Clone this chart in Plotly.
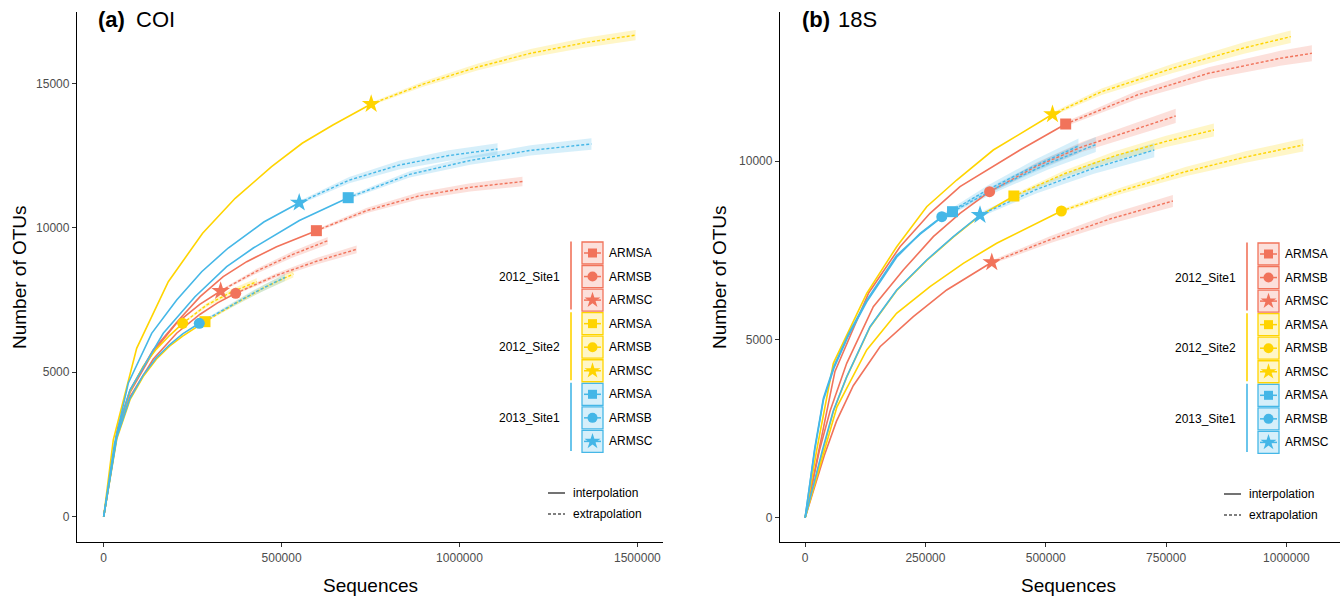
import plotly.graph_objects as go

W, H = 1343, 598

# ---------------- data: panel (a) COI ----------------
COI_XTICKS = [0, 500000, 1000000, 1500000]
COI_YTICKS = [0, 5000, 10000, 15000]

coi_s1a_ix = [0, 40000, 74000, 139000, 214000, 271000, 336000, 402000, 486000, 597800]
coi_s1a_iy = [0, 3100, 4386, 5770, 6850, 7615, 8307, 8827, 9346, 9900]
coi_s1a_ex = [597800, 740000, 885000, 1030000, 1177000]
coi_s1a_ey = [9900, 10600, 11100, 11400, 11600]
coi_s1a_ci = [50, 90, 120, 145, 165]

coi_s1b_ix = [0, 37000, 74000, 139000, 205000, 270000, 320000, 371000]
coi_s1b_iy = [0, 2800, 4150, 5450, 6350, 7000, 7400, 7733]
coi_s1b_ex = [371000, 485000, 600000, 711000]
coi_s1b_ey = [7733, 8350, 8850, 9256]
coi_s1b_ci = [40, 80, 110, 135]

coi_s1c_ix = [0, 37000, 74000, 139000, 205000, 270000, 328800]
coi_s1c_iy = [0, 2900, 4300, 5700, 6700, 7350, 7813]
coi_s1c_ex = [328800, 430000, 530000, 629600]
coi_s1c_ey = [7813, 8500, 9070, 9553]
coi_s1c_ci = [40, 80, 110, 130]

coi_s2a_ix = [0, 37000, 74000, 111000, 148000, 185000, 222000, 255000, 284700]
coi_s2a_iy = [0, 2700, 4050, 4850, 5450, 5900, 6250, 6520, 6750]
coi_s2a_ex = [284700, 370000, 450000, 533000]
coi_s2a_ey = [6750, 7380, 7920, 8401]
coi_s2a_ci = [35, 70, 100, 125]

coi_s2b_ix = [0, 37000, 74000, 111000, 148000, 185000, 222000]
coi_s2b_iy = [0, 2850, 4350, 5200, 5800, 6270, 6694]
coi_s2b_ex = [222000, 290000, 360000, 430000]
coi_s2b_ey = [6694, 7330, 7780, 8134]
coi_s2b_ci = [35, 70, 100, 125]

coi_s2c_ix = [0, 27000, 92700, 181600, 278000, 369600, 471900, 557900, 644200, 751800]
coi_s2c_iy = [0, 2655, 5829, 8134, 9810, 11021, 12115, 12925, 13558, 14285]
coi_s2c_ex = [751800, 900000, 1050000, 1200000, 1350000, 1495000]
coi_s2c_ey = [14285, 14980, 15560, 16040, 16400, 16670]
coi_s2c_ci = [50, 90, 120, 145, 165, 180]

coi_s3a_ix = [0, 38000, 73900, 167500, 256600, 345700, 420500, 550000, 687200]
coi_s3a_iy = [0, 2900, 4386, 6348, 7615, 8654, 9300, 10250, 11042]
coi_s3a_ex = [687200, 860000, 1030000, 1200000, 1371000]
coi_s3a_ey = [11042, 11850, 12330, 12680, 12901]
coi_s3a_ci = [60, 110, 150, 180, 200]

coi_s3b_ix = [0, 37000, 74000, 111000, 148000, 185000, 222000, 268700]
coi_s3b_iy = [0, 2750, 4100, 4900, 5500, 5950, 6330, 6694]
coi_s3b_ex = [268700, 350000, 430000, 509600]
coi_s3b_ey = [6694, 7260, 7800, 8287]
coi_s3b_ci = [35, 70, 100, 125]

coi_s3c_ix = [0, 30000, 69100, 134900, 205200, 275400, 350000, 450000, 549500]
coi_s3c_iy = [0, 2500, 4618, 6348, 7501, 8480, 9300, 10200, 10869]
coi_s3c_ex = [549500, 690000, 830000, 970000, 1107000]
coi_s3c_ey = [10869, 11650, 12170, 12500, 12728]
coi_s3c_ci = [60, 110, 150, 180, 200]

# ---------------- data: panel (b) 18S ----------------
S18_XTICKS = [0, 250000, 500000, 750000, 1000000]
S18_YTICKS = [0, 5000, 10000]

s18_s1a_ix = [0, 28000, 62000, 132000, 197200, 259500, 321800, 446500, 541400]
s18_s1a_iy = [0, 1900, 4100, 6300, 7597, 8533, 9280, 10308, 11037]
s18_s1a_ex = [541400, 690000, 838000, 987000, 1053000]
s18_s1a_ey = [11037, 11850, 12459, 12879, 13019]
s18_s1a_ci = [60, 120, 170, 210, 225]

s18_s1b_ix = [0, 30000, 52000, 86400, 141700, 204000, 266400, 321800, 383300]
s18_s1b_iy = [0, 1900, 3000, 4329, 5915, 6944, 7878, 8533, 9139]
s18_s1b_ex = [383300, 480000, 576000, 770000]
s18_s1b_ey = [9139, 9850, 10400, 11262]
s18_s1b_ci = [50, 100, 140, 200]

s18_s1c_ix = [0, 40000, 65000, 100000, 155600, 224800, 294200, 387900]
s18_s1c_iy = [0, 1750, 2700, 3700, 4794, 5635, 6384, 7160]
s18_s1c_ex = [387900, 510000, 635000, 764200]
s18_s1c_ey = [7160, 7800, 8380, 8879]
s18_s1c_ci = [50, 100, 140, 170]

s18_s2a_ix = [0, 36000, 58600, 86400, 134800, 190300, 252600, 307900, 363400, 433800]
s18_s2a_iy = [0, 1880, 2980, 3940, 5340, 6370, 7210, 7865, 8470, 9019]
s18_s2a_ex = [433800, 540000, 645000, 750000, 849400]
s18_s2a_ey = [9019, 9650, 10150, 10550, 10869]
s18_s2a_ci = [50, 90, 130, 160, 180]

s18_s2b_ix = [0, 40000, 66000, 128000, 190000, 259500, 328700, 398000, 467000, 532500]
s18_s2b_iy = [0, 1900, 3100, 4702, 5730, 6476, 7132, 7693, 8158, 8598]
s18_s2b_ex = [532500, 660000, 790000, 915000, 1035000]
s18_s2b_ey = [8598, 9180, 9700, 10110, 10449]
s18_s2b_ci = [50, 90, 130, 160, 180]

s18_s2c_ix = [0, 24100, 58600, 128000, 190300, 252600, 315000, 391000, 514000]
s18_s2c_iy = [0, 1898, 4329, 6291, 7597, 8719, 9467, 10308, 11309]
s18_s2c_ex = [514000, 616000, 764000, 912000, 1009000]
s18_s2c_ey = [11309, 11943, 12599, 13170, 13485]
s18_s2c_ci = [50, 90, 130, 160, 175]

s18_s3a_ix = [0, 20000, 38000, 60000, 90000, 128000, 190000, 239000, 275000, 306300]
s18_s3a_iy = [0, 1950, 3350, 4250, 5150, 6100, 7350, 7950, 8330, 8579]
s18_s3a_ex = [306300, 405000, 505000, 604000]
s18_s3a_ey = [8579, 9300, 9930, 10460]
s18_s3a_ci = [60, 120, 170, 210]

s18_s3b_ix = [0, 20000, 38000, 60000, 90000, 128000, 190000, 239000, 284000]
s18_s3b_iy = [0, 1900, 3300, 4200, 5100, 6050, 7300, 7970, 8439]
s18_s3b_ex = [284000, 380000, 475000, 568000]
s18_s3b_ey = [8439, 9200, 9850, 10420]
s18_s3b_ci = [60, 120, 170, 210]

s18_s3c_ix = [0, 36000, 58600, 86400, 134800, 190300, 252600, 307900, 363400]
s18_s3c_iy = [0, 1900, 3000, 3953, 5355, 6384, 7225, 7878, 8486]
s18_s3c_ex = [363400, 480000, 600000, 725500]
s18_s3c_ey = [8486, 9200, 9800, 10308]
s18_s3c_ci = [60, 110, 160, 200]

SITES = ["2012_Site1", "2012_Site2", "2013_Site1"]
ARMS = ["ARMSA", "ARMSB", "ARMSC"]

# ---------------- styles ----------------
COLORS = {"2012_Site1": "#F1735B", "2012_Site2": "#FFD400", "2013_Site1": "#45B7E7"}
FILLS = {"2012_Site1": "rgba(241,115,91,0.22)", "2012_Site2": "rgba(255,212,0,0.22)",
         "2013_Site1": "rgba(69,183,231,0.22)"}
SYMBOLS = {"ARMSA": "square", "ARMSB": "circle", "ARMSC": "star"}
MSIZE = {"ARMSA": 11, "ARMSB": 11, "ARMSC": 14}
LSIZE = {"ARMSA": 9, "ARMSB": 10, "ARMSC": 12}
FONT = "Liberation Sans, Arial, sans-serif"

panel_a = [
    ("2012_Site1", "ARMSA", coi_s1a_ix, coi_s1a_iy, coi_s1a_ex, coi_s1a_ey, coi_s1a_ci),
    ("2012_Site1", "ARMSB", coi_s1b_ix, coi_s1b_iy, coi_s1b_ex, coi_s1b_ey, coi_s1b_ci),
    ("2012_Site1", "ARMSC", coi_s1c_ix, coi_s1c_iy, coi_s1c_ex, coi_s1c_ey, coi_s1c_ci),
    ("2012_Site2", "ARMSA", coi_s2a_ix, coi_s2a_iy, coi_s2a_ex, coi_s2a_ey, coi_s2a_ci),
    ("2012_Site2", "ARMSB", coi_s2b_ix, coi_s2b_iy, coi_s2b_ex, coi_s2b_ey, coi_s2b_ci),
    ("2012_Site2", "ARMSC", coi_s2c_ix, coi_s2c_iy, coi_s2c_ex, coi_s2c_ey, coi_s2c_ci),
    ("2013_Site1", "ARMSA", coi_s3a_ix, coi_s3a_iy, coi_s3a_ex, coi_s3a_ey, coi_s3a_ci),
    ("2013_Site1", "ARMSB", coi_s3b_ix, coi_s3b_iy, coi_s3b_ex, coi_s3b_ey, coi_s3b_ci),
    ("2013_Site1", "ARMSC", coi_s3c_ix, coi_s3c_iy, coi_s3c_ex, coi_s3c_ey, coi_s3c_ci),
]
panel_b = [
    ("2012_Site1", "ARMSA", s18_s1a_ix, s18_s1a_iy, s18_s1a_ex, s18_s1a_ey, s18_s1a_ci),
    ("2012_Site1", "ARMSB", s18_s1b_ix, s18_s1b_iy, s18_s1b_ex, s18_s1b_ey, s18_s1b_ci),
    ("2012_Site1", "ARMSC", s18_s1c_ix, s18_s1c_iy, s18_s1c_ex, s18_s1c_ey, s18_s1c_ci),
    ("2012_Site2", "ARMSA", s18_s2a_ix, s18_s2a_iy, s18_s2a_ex, s18_s2a_ey, s18_s2a_ci),
    ("2012_Site2", "ARMSB", s18_s2b_ix, s18_s2b_iy, s18_s2b_ex, s18_s2b_ey, s18_s2b_ci),
    ("2012_Site2", "ARMSC", s18_s2c_ix, s18_s2c_iy, s18_s2c_ex, s18_s2c_ey, s18_s2c_ci),
    ("2013_Site1", "ARMSA", s18_s3a_ix, s18_s3a_iy, s18_s3a_ex, s18_s3a_ey, s18_s3a_ci),
    ("2013_Site1", "ARMSB", s18_s3b_ix, s18_s3b_iy, s18_s3b_ex, s18_s3b_ey, s18_s3b_ci),
    ("2013_Site1", "ARMSC", s18_s3c_ix, s18_s3c_iy, s18_s3c_ex, s18_s3c_ey, s18_s3c_ci),
]

fig = go.Figure()


def add_panel(series, xa, ya):
    # bands
    for site, arms, ix, iy, ex, ey, ci in series:
        lo = [y - c for y, c in zip(ey, ci)]
        hi = [y + c for y, c in zip(ey, ci)]
        fig.add_trace(go.Scatter(x=list(ex) + list(ex)[::-1], y=lo + hi[::-1],
                                 fill="toself", fillcolor=FILLS[site], mode="lines",
                                 line=dict(width=0), xaxis=xa, yaxis=ya,
                                 showlegend=False, hoverinfo="skip"))
    # lines
    for site, arms, ix, iy, ex, ey, ci in series:
        fig.add_trace(go.Scatter(x=ix, y=iy, mode="lines",
                                 line=dict(color=COLORS[site], width=1.6),
                                 xaxis=xa, yaxis=ya, showlegend=False))
        fig.add_trace(go.Scatter(x=ex, y=ey, mode="lines",
                                 line=dict(color=COLORS[site], width=1.4, dash="3px,2px"),
                                 xaxis=xa, yaxis=ya, showlegend=False))
    # observed points
    for site, arms, ix, iy, ex, ey, ci in series:
        fig.add_trace(go.Scatter(x=[ix[-1]], y=[iy[-1]], mode="markers",
                                 marker=dict(color=COLORS[site], symbol=SYMBOLS[arms],
                                             size=MSIZE[arms], line=dict(width=0)),
                                 xaxis=xa, yaxis=ya, showlegend=False))


add_panel(panel_a, "x", "y")
add_panel(panel_b, "x2", "y2")

# ---------------- layout (pixel helpers) ----------------
PLOT_TOP, PLOT_BOTTOM = 12, 542
A_LEFT, A_RIGHT = 77, 663
B_LEFT, B_RIGHT = 780, 1340
ydom = [1 - PLOT_BOTTOM / H, 1 - PLOT_TOP / H]

axis_common = dict(showline=True, linecolor="black", linewidth=1.3, ticks="outside",
                   ticklen=4, tickwidth=1, tickcolor="#333333", showgrid=False,
                   zeroline=False, tickfont=dict(family=FONT, size=12, color="#4D4D4D"),
                   fixedrange=True)

fig.update_layout(
    width=W, height=H, margin=dict(l=0, r=0, t=0, b=0),
    paper_bgcolor="white", plot_bgcolor="rgba(0,0,0,0)", showlegend=False,
    font=dict(family=FONT),
    xaxis=dict(domain=[A_LEFT / W, A_RIGHT / W], range=[-75000, 1572000], anchor="y",
               tickvals=COI_XTICKS, ticktext=[str(v) for v in COI_XTICKS], **axis_common),
    yaxis=dict(domain=ydom, range=[-876, 17469], anchor="x",
               tickvals=COI_YTICKS, ticktext=[str(v) for v in COI_YTICKS], **axis_common),
    xaxis2=dict(domain=[B_LEFT / W, B_RIGHT / W], range=[-52200, 1111400], anchor="y2",
                tickvals=S18_XTICKS, ticktext=[str(v) for v in S18_XTICKS], **axis_common),
    yaxis2=dict(domain=ydom, range=[-681, 14177], anchor="x2",
                tickvals=S18_YTICKS, ticktext=[str(v) for v in S18_YTICKS], **axis_common),
    xaxis3=dict(domain=[0, 1], range=[0, W], visible=False, fixedrange=True, anchor="y3"),
    yaxis3=dict(domain=[0, 1], range=[H, 0], visible=False, fixedrange=True, anchor="x3"),
)

annotations = []
shapes = []


def text(x, y, s, size, xanchor="left", angle=0, color="black"):
    annotations.append(dict(x=x, y=y, xref="x3", yref="y3", text=s, showarrow=False,
                            xanchor=xanchor, yanchor="middle", textangle=angle,
                            font=dict(family=FONT, size=size, color=color)))


# panel titles
text(96, 19, "<b>(a)</b>", 22)
text(134, 19, "COI", 22)
text(800, 19, "<b>(b)</b>", 22)
text(836, 19, "18S", 22)

# axis titles
text((A_LEFT + A_RIGHT) / 2, 585, "Sequences", 19, xanchor="center")
text(1068, 585, "Sequences", 19, xanchor="center")
text(19, (PLOT_TOP + PLOT_BOTTOM) / 2, "Number of OTUs", 19, xanchor="center", angle=-90)
text(719, (PLOT_TOP + PLOT_BOTTOM) / 2, "Number of OTUs", 19, xanchor="center", angle=-90)


def legend(dx, dy):
    row0, pitch = 253 + dy, 23.55
    bx0, bx1 = 582 + dx, 603 + dx
    for g, site in enumerate(SITES):
        col = COLORS[site]
        yc_first = row0 + (3 * g) * pitch
        yc_last = row0 + (3 * g + 2) * pitch
        shapes.append(dict(type="line", xref="x3", yref="y3", x0=571 + dx, x1=571 + dx,
                           y0=yc_first - 11.5, y1=yc_last + 9.5,
                           line=dict(color=col, width=1.6)))
        text(562 + dx, row0 + (3 * g + 1) * pitch, site, 12, xanchor="right")
        for k, arms in enumerate(ARMS):
            yc = row0 + (3 * g + k) * pitch
            shapes.append(dict(type="rect", xref="x3", yref="y3", x0=bx0, x1=bx1,
                               y0=yc - 11, y1=yc + 11, fillcolor=FILLS[site],
                               line=dict(color=col, width=1.3)))
            shapes.append(dict(type="line", xref="x3", yref="y3", x0=bx0 + 2, x1=bx1 - 2,
                               y0=yc, y1=yc, line=dict(color=col, width=1.5)))
            fig.add_trace(go.Scatter(x=[(bx0 + bx1) / 2], y=[yc], mode="markers",
                                     marker=dict(color=col, symbol=SYMBOLS[arms],
                                                 size=LSIZE[arms], line=dict(width=0)),
                                     xaxis="x3", yaxis="y3", showlegend=False,
                                     hoverinfo="skip"))
            text(bx1 + 4, yc, arms, 12)
    # interpolation / extrapolation key
    shapes.append(dict(type="line", xref="x3", yref="y3", x0=548 + dx, x1=565 + dx,
                       y0=493 + dy, y1=493 + dy, line=dict(color="black", width=1.1)))
    shapes.append(dict(type="line", xref="x3", yref="y3", x0=548 + dx, x1=565 + dx,
                       y0=514 + dy, y1=514 + dy,
                       line=dict(color="black", width=1.1, dash="3px,2px")))
    text(571 + dx, 493 + dy, "interpolation", 12)
    text(571 + dx, 514 + dy, "extrapolation", 12)


legend(0, 0)
legend(676, 1)

fig.update_layout(annotations=annotations, shapes=shapes)
fig.write_html("out.html")
